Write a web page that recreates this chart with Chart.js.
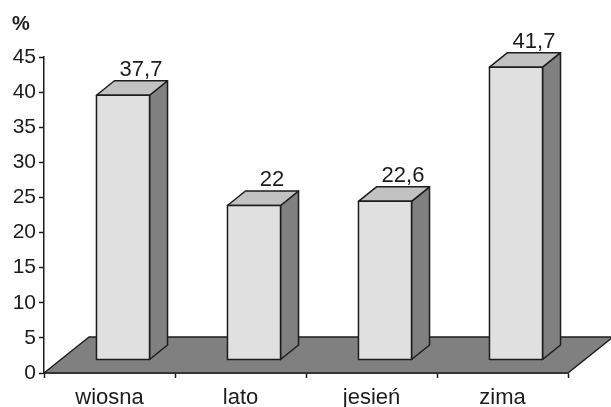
<!DOCTYPE html>
<html>
<head>
<meta charset="utf-8">
<script src="https://cdn.jsdelivr.net/npm/chart.js@4/dist/chart.umd.min.js"></script>
<style>
  html, body { margin: 0; padding: 0; background: #fff; }
  #wrap { width: 611px; height: 407px; position: relative; }
</style>
</head>
<body>
<div id="wrap"><canvas id="seasons-chart"></canvas></div>
<script>
// season shares
const SEASONS = ["wiosna", "lato", "jesień", "zima"];
const SHARES = [37.7, 22, 22.6, 41.7];
const Y_MIN = 0;
const Y_MAX = 45;
const Y_STEP = 5;
const UNIT_LABEL = "%";

const FONT = "'Liberation Sans', Arial, Helvetica, sans-serif";
const INK = "#1c1c1c";

// fake-3d look: bars sit a little behind the axis, floor runs further back
const BAR_SHIFT = { x: 13.5, y: -13 };
const BAR_DEPTH = { x: 18, y: -14.5 };
const FLOOR_DEPTH = { x: 45, y: -36 };

const COLORS = {
  floor: "#808080",
  front: "#e0e0e0",
  side: "#808080",
  top: "#c2c2c2",
};

function fmt(v) {
  return String(v).replace(".", ",");
}

function poly(ctx, pts, fill) {
  ctx.beginPath();
  ctx.moveTo(pts[0][0], pts[0][1]);
  for (let i = 1; i < pts.length; i++) ctx.lineTo(pts[i][0], pts[i][1]);
  ctx.closePath();
  ctx.fillStyle = fill;
  ctx.fill();
  ctx.stroke();
}

const floorAndBoxes = {
  id: "floorAndBoxes",
  beforeDatasetsDraw(chart) {
    const { ctx, chartArea, scales } = chart;
    const y0 = scales.y.getPixelForValue(Y_MIN);
    ctx.save();
    ctx.strokeStyle = INK;
    ctx.lineWidth = 1.5;
    ctx.lineJoin = "round";
    poly(ctx, [
      [chartArea.left, y0],
      [chartArea.right, y0],
      [chartArea.right + FLOOR_DEPTH.x, y0 + FLOOR_DEPTH.y],
      [chartArea.left + FLOOR_DEPTH.x, y0 + FLOOR_DEPTH.y],
    ], COLORS.floor);
    ctx.restore();
  },
  afterDatasetsDraw(chart) {
    const { ctx } = chart;
    const meta = chart.getDatasetMeta(0);
    ctx.save();
    ctx.strokeStyle = INK;
    ctx.lineWidth = 1.5;
    ctx.lineJoin = "round";
    meta.data.forEach((bar, i) => {
      const half = bar.width / 2;
      const l = bar.x - half + BAR_SHIFT.x;
      const r = bar.x + half + BAR_SHIFT.x;
      const t = bar.y + BAR_SHIFT.y;
      const b = bar.base + BAR_SHIFT.y;
      const dx = BAR_DEPTH.x, dy = BAR_DEPTH.y;
      poly(ctx, [[r, t], [r + dx, t + dy], [r + dx, b + dy], [r, b]], COLORS.side);
      poly(ctx, [[l, t], [l + dx, t + dy], [r + dx, t + dy], [r, t]], COLORS.top);
      poly(ctx, [[l, t], [r, t], [r, b], [l, b]], COLORS.front);

      ctx.fillStyle = INK;
      ctx.font = `22px ${FONT}`;
      ctx.textAlign = "center";
      ctx.textBaseline = "alphabetic";
      ctx.fillText(fmt(SHARES[i]), (l + r) / 2 + dx, t + dy - 5);
    });

    // unit caption above the value axis
    ctx.font = `bold 20px ${FONT}`;
    ctx.textAlign = "left";
    ctx.fillText(UNIT_LABEL, 12, 30);
    ctx.restore();
  },
};

new Chart(document.getElementById("seasons-chart"), {
  type: "bar",
  data: {
    labels: SEASONS,
    datasets: [{
      data: SHARES,
      backgroundColor: "rgba(0,0,0,0)",
      borderWidth: 0,
      barPercentage: 0.81,
      categoryPercentage: 0.5,
    }],
  },
  options: {
    animation: false,
    responsive: true,
    maintainAspectRatio: false,
    layout: { padding: { top: 57, right: 43, bottom: 0, left: 0 } },
    plugins: {
      legend: { display: false },
      tooltip: { enabled: false },
    },
    scales: {
      x: {
        afterFit: (axis) => { axis.height = 34; },
        grid: { drawOnChartArea: false, offset: true, tickLength: 5, color: INK, tickWidth: 1.5 },
        border: { color: INK, width: 1.5 },
        ticks: { color: INK, font: { family: FONT, size: 22 }, padding: 7, maxRotation: 0 },
      },
      y: {
        min: Y_MIN,
        max: Y_MAX,
        afterFit: (axis) => { axis.width = 44; },
        grid: { drawOnChartArea: false, tickLength: 5, color: INK, tickWidth: 1.5 },
        border: { color: INK, width: 1.5 },
        ticks: { stepSize: Y_STEP, color: INK, font: { family: FONT, size: 21 }, padding: 3 },
      },
    },
  },
  plugins: [floorAndBoxes],
});
</script>
</body>
</html>
